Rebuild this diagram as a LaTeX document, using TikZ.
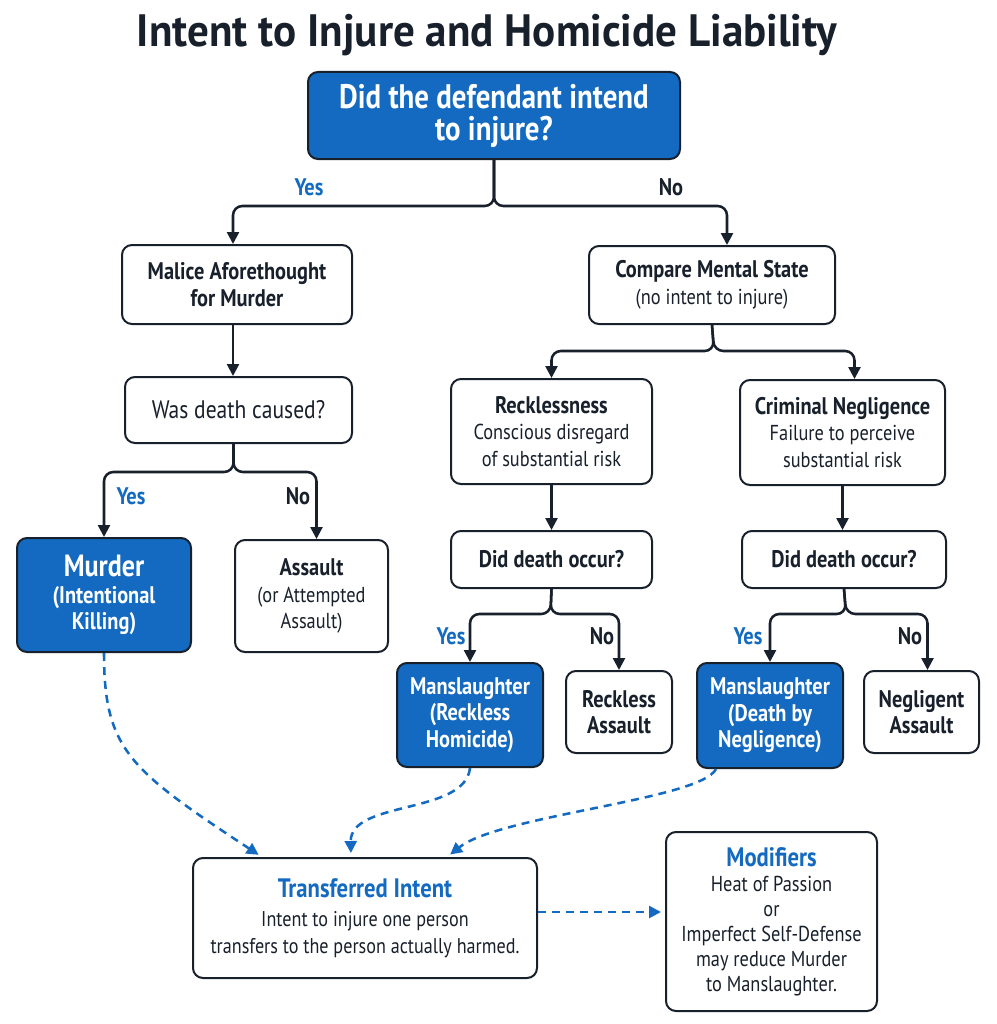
\documentclass[tikz,border=0pt]{standalone}
\usepackage{fontspec}
\setmainfont{PT Sans}[FakeStretch=0.85]
\newfontfamily\titlefont{PT Sans}[FakeStretch=0.95]
\usetikzlibrary{arrows.meta,calc}
\definecolor{fillblue}{RGB}{19,106,192}
\definecolor{inkdark}{RGB}{24,32,44}
\newcommand{\hd}{\fontsize{18}{21}\selectfont\bfseries}
\tikzset{every picture/.style={line width=0.75pt}}
\tikzset{
  box/.style={draw=inkdark, line width=1.5pt, rounded corners=7.5pt, fill=white, align=center, inner sep=0pt, text=inkdark, font=\fontsize{16.2}{20}\selectfont},
  bluebox/.style={box, fill=fillblue, text=white},
  flow/.style={draw=inkdark, line width=1.9pt, rounded corners=7pt, -{Triangle[length=9pt,width=9pt]}},
  link/.style={draw=fillblue, line width=1.9pt, dash pattern=on 6pt off 4.5pt, -{Triangle[length=9pt,width=9pt]}, shorten >=3pt},
  yes/.style={text=fillblue, font=\fontsize{18}{20}\selectfont\bfseries},
  no/.style={text=inkdark, font=\fontsize{18}{20}\selectfont\bfseries},
}

\begin{document}
\begin{tikzpicture}[x=0.75pt,y=0.75pt,yscale=-1,xscale=1]
\useasboundingbox (0,0) rectangle (996,1024);

% Title
\node[text=inkdark, font=\titlefont\fontsize{34}{36}\selectfont\bfseries] (title) at (487,35) {Intent to Injure and Homicide Liability};

% Question
\node[bluebox, minimum width=279pt, minimum height=65.25pt, font=\fontsize{25.5}{24}\selectfont\bfseries] (q1) at (494,115.5) {Did the defendant intend\\to injure?};

% Intent branch
\node[box, minimum width=172.5pt, minimum height=59.25pt] (malice) at (237,284.5) {\hd Malice Aforethought\\\hd for Murder};
\node[box, minimum width=170.25pt, minimum height=49.5pt] (caused) at (238.5,410) {\fontsize{19}{20}\selectfont Was death caused?};
\node[bluebox, minimum width=130.5pt, minimum height=85.5pt] (murder) at (104,595) {{\fontsize{23}{24}\selectfont\bfseries Murder}\\\hd (Intentional\\\hd Killing)};
\node[box, minimum width=114.75pt, minimum height=84pt] (assault) at (311.5,596) {\hd Assault\\(or Attempted\\Assault)};

% No-intent branch
\node[box, minimum width=184.5pt, minimum height=58.5pt] (compare) at (712,285) {\hd Compare Mental State\\(no intent to injure)};
\node[box, minimum width=150.75pt, minimum height=78.75pt] (reckless) at (551.5,431.5) {\hd Recklessness\\Conscious disregard\\of substantial risk};
\node[box, minimum width=153.75pt, minimum height=78.75pt] (neglig) at (842.5,432.5) {\hd Criminal Negligence\\Failure to perceive\\substantial risk};
\node[box, minimum width=150.75pt, minimum height=42.75pt] (occur1) at (551.5,559.5) {\hd Did death occur?};
\node[box, minimum width=153pt, minimum height=42.75pt] (occur2) at (844,559.5) {\hd Did death occur?};
\node[bluebox, minimum width=109.5pt, minimum height=78pt] (mans1) at (470,715) {\hd Manslaughter\\\hd (Reckless\\\hd Homicide)};
\node[box, minimum width=79.5pt, minimum height=61.5pt] (rassault) at (619,712) {\hd Reckless\\\hd Assault};
\node[bluebox, minimum width=109.5pt, minimum height=78.75pt] (mans2) at (770,715.5) {\hd Manslaughter\\\hd (Death by\\\hd Negligence)};
\node[box, minimum width=86.25pt, minimum height=61.5pt] (nassault) at (921.5,712) {\hd Negligent\\\hd Assault};

% Bottom notes
\node[box, minimum width=258pt, minimum height=90pt, font=\fontsize{16}{20}\selectfont] (transfer) at (365,918) {{\fontsize{20}{23}\selectfont\bfseries\color{fillblue}Transferred Intent}\\[2pt]Intent to injure one person\\transfers to the person actually harmed.};
\node[box, minimum width=158.25pt, minimum height=134.25pt, font=\fontsize{16.2}{18.75}\selectfont] (modif) at (771.5,921.5) {{\fontsize{20}{23}\selectfont\bfseries\color{fillblue}Modifiers}\\Heat of Passion\\or\\Imperfect Self-Defense\\may reduce Murder\\to Manslaughter.};

% Splits
\coordinate (s1) at ($(q1.south)+(0,46)$);
\coordinate (s2) at ($(caused.south)+(-5,28)$);
\coordinate (s3) at ($(compare.south)+(2,26)$);
\coordinate (s4) at ($(occur1.south)+(-1,25)$);
\coordinate (s5) at ($(occur2.south)+(2,25)$);

\draw[flow] (q1.south) -- (s1) -| ($(malice.north)+(-4,0)$);
\draw[flow] (q1.south) -- (s1) -| ($(compare.north)+(15,0)$);
\draw[flow] ($(malice.south)+(-4,0)$) -- ($(malice.south |- caused.north)+(-4,0)$);
\draw[flow] ($(caused.south)+(-5,0)$) -- (s2) -| (murder.north);
\draw[flow] ($(caused.south)+(-5,0)$) -- (s2) -| ($(assault.north)+(5,0)$);
\draw[flow] (compare.south) -- (s3) -| (reckless.north);
\draw[flow] (compare.south) -- (s3) -| ($(neglig.north)+(12,0)$);
\draw[flow] (reckless.south) -- (reckless.south |- occur1.north);
\draw[flow] (neglig.south) -- (neglig.south |- occur2.north);
\draw[flow] (occur1.south) -- (s4) -| (mans1.north);
\draw[flow] (occur1.south) -- (s4) -| (rassault.north);
\draw[flow] (occur2.south) -- (s5) -| (mans2.north);
\draw[flow] (occur2.south) -- (s5) -| ($(nassault.north)+(6,0)$);

% Labels
\node[yes] (y1) at (309,187) {Yes};
\node[no] (n1) at (671,187) {No};
\node[yes] (y2) at (131,496) {Yes};
\node[no] (n2) at (298,496) {No};
\node[yes] (y3) at (451,636) {Yes};
\node[no] (n3) at (602,636) {No};
\node[yes] (y4) at (748,636) {Yes};
\node[no] (n4) at (910,636) {No};

% Dashed links
\coordinate (t1) at ($(transfer.north west)+(70,0)$);
\coordinate (t2) at ($(transfer.north west)+(159,0)$);
\coordinate (t3) at ($(transfer.north west)+(255,0)$);
\draw[link] (murder.south) .. controls (104,750) and (130,770) .. (t1);
\draw[link] (mans1.south) .. controls (465,815) and (350,800) .. (t2);
\draw[link] ($(mans2.south west)+(20,0)$) .. controls (700,800) and (500,815) .. (t3);
\draw[link] ($(transfer.east)+(0,-6)$) -- ($(transfer.east -| modif.west)+(0,-6)$);

\end{tikzpicture}
\end{document}
